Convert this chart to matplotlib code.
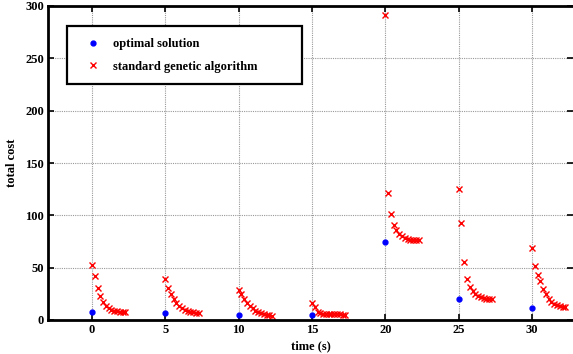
import numpy as np
import matplotlib.pyplot as plt

# time steps and optimal solution cost
times = [0, 5, 10, 15, 20, 25, 30]
optimal_cost = [8, 6.5, 5, 4.5, 75, 20, 11.5]

# standard GA cost per generation, one list per time step
ga_step = 0.19
ga_cost = [
    [53, 42, 31, 23, 17, 13, 11, 10, 9, 8.5, 8, 8, 8],
    [39.5, 31, 25, 20, 16, 13, 11, 9.5, 8.5, 8, 7.5, 7, 7],
    [29, 25, 20, 16, 13, 11, 9, 7.5, 6.5, 5.5, 5, 4.5, 4],
    [16, 12, 8, 6.5, 6, 6, 5.5, 5.5, 5.5, 5.5, 5.5, 5, 5],
    [291, 121, 101, 91, 86, 82, 80, 78, 77, 76.5, 76, 76, 76],
    [125, 93, 55, 39, 32, 28, 25, 23, 22, 21, 20.5, 20, 20],
    [69, 52, 43, 37, 30, 25, 20, 17, 15, 14, 13, 12.5, 12],
]

plt.rcParams['font.family'] = 'Liberation Serif'
plt.rcParams['font.weight'] = 'bold'

fig = plt.figure(figsize=(5.73, 3.54), dpi=100)
ax = fig.add_axes([48 / 573, 34 / 354, 1 - 48 / 573, 314 / 354])

ax.plot(times, optimal_cost, '.', color='blue', markersize=7, label='optimal solution')
for i, t in enumerate(times):
    xs = t + ga_step * np.arange(len(ga_cost[i]))
    ax.plot(xs, ga_cost[i], 'x', color='red', markersize=5, markeredgewidth=1,
            label='standard genetic algorithm' if i == 0 else None)

ax.set_xlim(-3, 32.8)
ax.set_ylim(0, 300)
ax.set_xticks(times)
ax.set_yticks(range(0, 301, 50))
ax.grid(True, color='0.6', linestyle=(0, (1, 1)), linewidth=0.8)
ax.tick_params(direction='in', top=True, right=True, labelsize=9, width=1.2, length=4, pad=3)
for lab in ax.get_xticklabels() + ax.get_yticklabels():
    lab.set_fontweight('bold')
for side in ['left', 'bottom', 'top']:
    ax.spines[side].set_linewidth(2)
ax.spines['right'].set_visible(False)

ax.set_xlabel('time (s)', fontsize=9, fontweight='bold', labelpad=3)
ax.set_ylabel('total cost', fontsize=9, fontweight='bold', labelpad=5)

leg = ax.legend(loc='upper left', bbox_to_anchor=(0.0362, 0.7675, 0.4476, 0.1685),
                mode='expand', fontsize=9, fancybox=False, edgecolor='black',
                framealpha=1, borderpad=0.95, handlelength=2.2, handletextpad=0.56,
                labelspacing=0.85, borderaxespad=0)
leg.get_frame().set_linewidth(1.6)
for txt in leg.get_texts():
    txt.set_fontweight('bold')

fig.savefig('out.png', dpi=100)
